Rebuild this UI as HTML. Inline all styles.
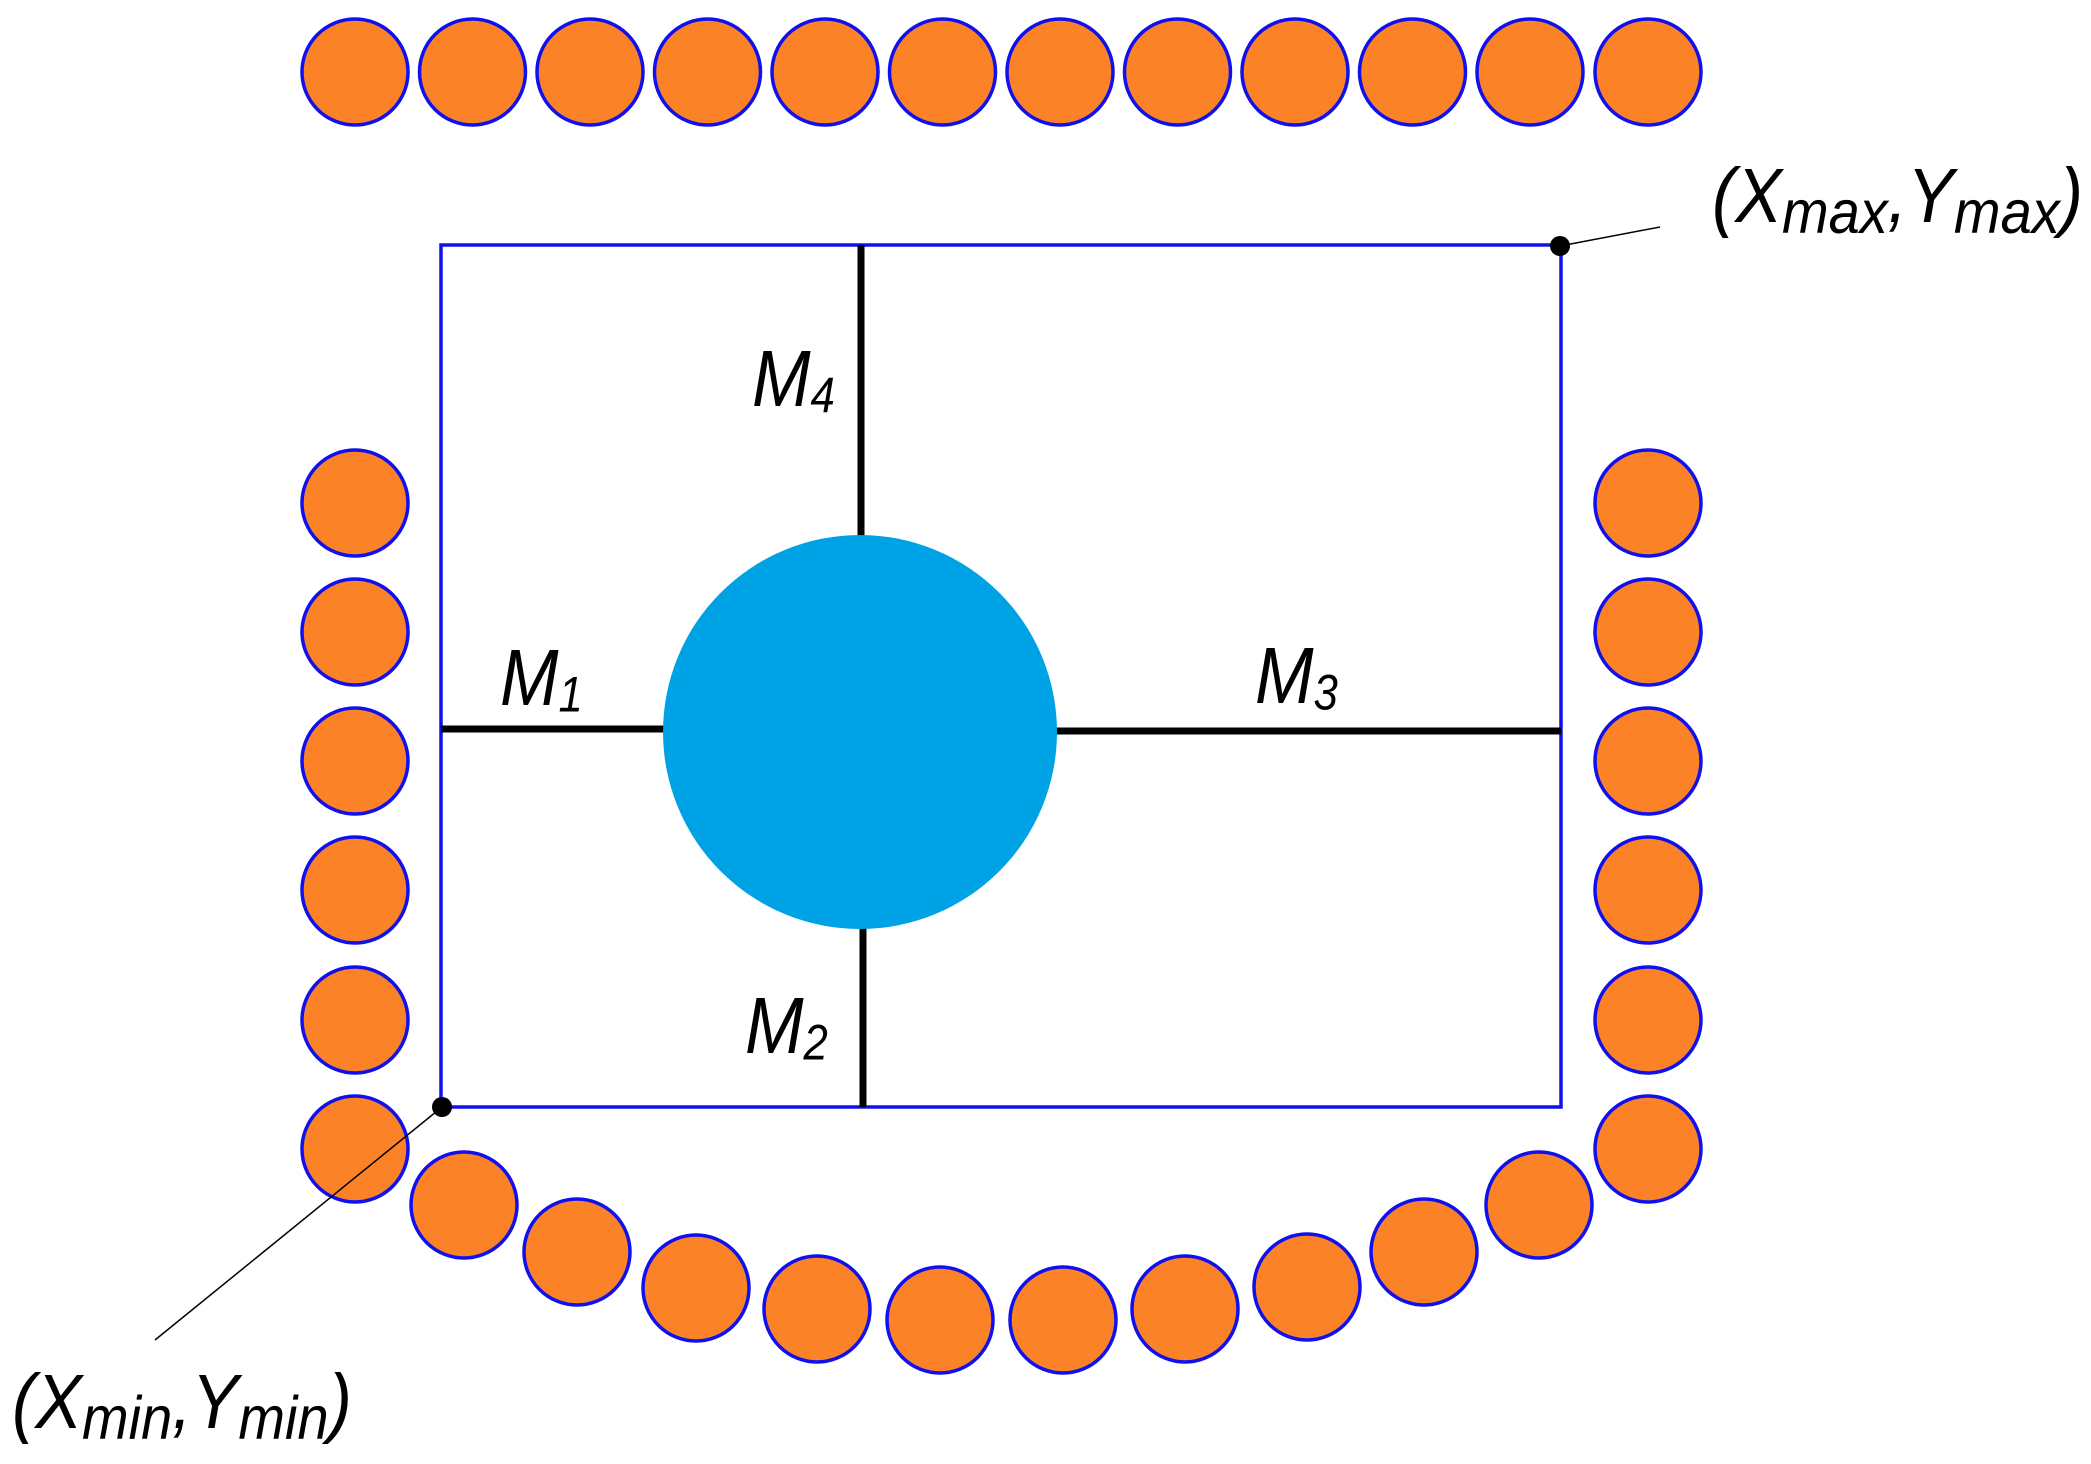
<!DOCTYPE html>
<html><head><style>html,body{margin:0;padding:0;background:#fff}</style></head><body>
<svg width="2091" height="1459" viewBox="0 0 2091 1459" xmlns="http://www.w3.org/2000/svg" font-family="Liberation Sans, sans-serif" font-style="italic">
<g fill="#FC8228" stroke="#1010EE" stroke-width="3.5">
<circle cx="355" cy="72" r="53"/><circle cx="472.5" cy="72" r="53"/><circle cx="590" cy="72" r="53"/><circle cx="707.5" cy="72" r="53"/><circle cx="825" cy="72" r="53"/><circle cx="942.5" cy="72" r="53"/><circle cx="1060" cy="72" r="53"/><circle cx="1177.5" cy="72" r="53"/><circle cx="1295" cy="72" r="53"/><circle cx="1412.5" cy="72" r="53"/><circle cx="1530" cy="72" r="53"/><circle cx="1648" cy="72" r="53"/>
<circle cx="355" cy="503" r="53"/><circle cx="355" cy="632" r="53"/><circle cx="355" cy="761" r="53"/><circle cx="355" cy="890" r="53"/><circle cx="355" cy="1020" r="53"/><circle cx="355" cy="1149" r="53"/>
<circle cx="1648" cy="503" r="53"/><circle cx="1648" cy="632" r="53"/><circle cx="1648" cy="761" r="53"/><circle cx="1648" cy="890" r="53"/><circle cx="1648" cy="1020" r="53"/><circle cx="1648" cy="1149" r="53"/>
<circle cx="464" cy="1205" r="53"/><circle cx="577" cy="1252" r="53"/><circle cx="696" cy="1288" r="53"/><circle cx="817" cy="1309" r="53"/><circle cx="940" cy="1320" r="53"/><circle cx="1063" cy="1320" r="53"/><circle cx="1185" cy="1309" r="53"/><circle cx="1307" cy="1287" r="53"/><circle cx="1424" cy="1252" r="53"/><circle cx="1539" cy="1205" r="53"/>
</g>
<rect x="441" y="245" width="1120" height="862" fill="none" stroke="#1010EE" stroke-width="3.5"/>
<g stroke="#000" stroke-width="7">
<line x1="861" y1="245" x2="861" y2="545"/>
<line x1="863" y1="920" x2="863" y2="1107"/>
<line x1="441" y1="729" x2="670" y2="729"/>
<line x1="1050" y1="731" x2="1561" y2="731"/>
</g>
<circle cx="860" cy="732" r="197" fill="#00A2E6"/>
<g stroke="#000" stroke-width="1.5">
<line x1="442" y1="1107" x2="155" y2="1340"/>
<line x1="1560" y1="246" x2="1660" y2="227"/>
</g>
<circle cx="442" cy="1107" r="10" fill="#000"/>
<circle cx="1560" cy="246" r="10" fill="#000"/>
<g fill="#000">
<text transform="translate(752,406) scale(0.95,1.08)" font-size="74">M<tspan font-size="46" dy="6">4</tspan></text>
<text transform="translate(500,705) scale(0.95,1.08)" font-size="74">M<tspan font-size="46" dy="6">1</tspan></text>
<text transform="translate(1255,703) scale(0.95,1.08)" font-size="74">M<tspan font-size="46" dy="6">3</tspan></text>
<text transform="translate(745,1053) scale(0.95,1.08)" font-size="74">M<tspan font-size="46" dy="6">2</tspan></text>
<text transform="translate(12,1428) scale(1.0,1.1)" font-size="70">(X<tspan font-size="56" dy="10">min</tspan><tspan dy="-10">,Y</tspan><tspan font-size="56" dy="10">min</tspan><tspan dy="-10">)</tspan></text>
<text transform="translate(1712,222) scale(1.0,1.1)" font-size="70">(X<tspan font-size="56" dy="10">max</tspan><tspan dy="-10">,Y</tspan><tspan font-size="56" dy="10">max</tspan><tspan dy="-10">)</tspan></text>
</g>
</svg>
</body></html>
